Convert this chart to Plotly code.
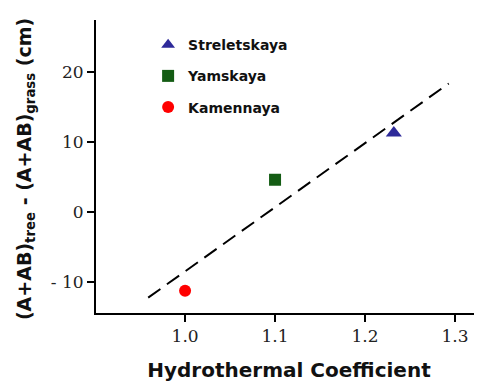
import plotly.graph_objects as go

# Data
sites = ["Streletskaya", "Yamskaya", "Kamennaya"]
htc = [1.232, 1.10, 1.0]
diff_cm = [11.3, 4.6, -11.3]
colors = ["#2e2a9a", "#145c14", "#ff0000"]
symbols = ["triangle-up", "square", "circle"]
marker_sizes = [14, 12, 12]

fit_x = [0.959, 1.293]
fit_y = [-12.3, 18.4]

x_tickvals = [1.0, 1.1, 1.2, 1.3]
x_ticktext = ["1.0", "1.1", "1.2", "1.3"]
y_tickvals = [-10, 0, 10, 20]
y_ticktext = ["- 10", "0", "10", "20"]

fig = go.Figure()
fig.add_trace(go.Scatter(x=fit_x, y=fit_y, mode="lines",
                         line=dict(color="black", width=2, dash="15px,8px"),
                         showlegend=False, hoverinfo="skip"))
for i, s in enumerate(sites):
    fig.add_trace(go.Scatter(x=[htc[i]], y=[diff_cm[i]], mode="markers",
                             name="<b>" + s + "</b>", legendgroup=s,
                             marker=dict(symbol=symbols[i], color=colors[i],
                                         size=marker_sizes[i], line=dict(width=0))))

# page body has an 8px margin, so the figure is sized/margined to compensate
fig.update_layout(
    width=474, height=375,
    margin=dict(l=88, r=0, t=12, b=70),
    plot_bgcolor="white", paper_bgcolor="white",
    legend=dict(x=0.135, y=0.969, xanchor="left", yanchor="top",
                font=dict(family="DejaVu Sans", size=14, color="#111"),
                bgcolor="rgba(0,0,0,0)", tracegroupgap=10),
    legend_itemsizing="constant",
)
fig.update_xaxes(range=[0.901, 1.33], tickvals=x_tickvals, ticktext=x_ticktext,
                 automargin=False,
                 showline=True, linecolor="black", linewidth=2, mirror=False,
                 ticks="outside", ticklen=7, tickwidth=2, tickcolor="black",
                 showgrid=False, zeroline=False,
                 tickfont=dict(family="DejaVu Serif", size=17, color="#222"),
                 title=dict(text="<b>Hydrothermal Coefficient</b>",
                            font=dict(family="DejaVu Sans", size=20, color="#111"),
                            standoff=18))
fig.update_yaxes(range=[-14.5, 27.5], tickvals=y_tickvals, ticktext=y_ticktext,
                 automargin=False,
                 showline=True, linecolor="black", linewidth=2,
                 ticks="outside", ticklen=7, tickwidth=2, tickcolor="black",
                 showgrid=False, zeroline=False,
                 tickfont=dict(family="DejaVu Serif", size=17, color="#222"))
fig.add_annotation(text="<b>(A+AB)<sub>tree</sub> - (A+AB)<sub>grass</sub> (cm)</b>",
                   xref="paper", yref="paper", x=-0.184, y=0.491,
                   xanchor="center", yanchor="middle", textangle=-90,
                   showarrow=False,
                   font=dict(family="DejaVu Sans", size=19, color="#111"))
fig.write_html("out.html")
